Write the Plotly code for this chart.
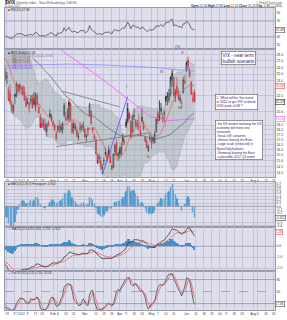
import numpy as np
import pandas as pd
import plotly.graph_objects as go

# ---------------- data (VIX daily, read/estimated from the chart) ----------------
holidays = ['2011-11-24', '2011-12-26', '2012-01-02', '2012-01-16', '2012-02-20',
            '2012-04-06', '2012-05-28', '2012-07-04']

opens = [33.0, 33.9, 32.2, 31.8, 31.3, 29.6, 32.4, 33.8, 31.5, 31.2, 31.9, 31.6, 33.6, 33.9, 34.4, 32.6, 33.2, 34.0, 31.3, 32.3, 28.4,
         28.0, 26.3, 26.5, 28.2, 28.2, 28.0, 29.1, 27.6, 27.8, 28.4, 26.4, 25.3, 24.5, 22.8, 22.3, 21.0, 20.1, 22.2, 22.0, 23.5, 23.0,
         22.9, 23.2, 22.5, 21.6, 21.2, 20.4, 21.3, 21.8, 21.6, 20.6, 22.0, 20.6, 19.5, 18.5, 19.0, 18.6, 17.8, 18.8, 19.8, 19.2,
         18.9, 18.5, 17.6, 18.0, 18.4, 18.0, 18.0, 19.6, 19.4, 19.5, 19.2, 20.9, 18.7, 18.6, 18.2, 18.0, 17.2, 18.2, 18.4, 18.2,
         18.1, 17.4, 18.1, 19.7, 20.1, 18.2, 17.4, 16.9, 15.6, 15.2, 15.0, 14.3, 15.0, 15.8, 15.5, 16.0, 15.4, 14.6, 14.4, 15.8, 16.7, 15.6,
         16.1, 15.6, 17.2, 16.7, 18.4, 18.9, 19.8, 18.9, 17.8, 19.6, 19.0, 18.5, 18.4, 17.9, 19.4, 18.8, 17.2, 16.8, 15.9, 17.1,
         17.0, 17.2, 16.7, 17.8, 19.9, 19.5, 20.4, 19.4, 19.8, 21.3, 21.3, 21.5, 22.2, 24.1, 24.5, 21.8, 23.3, 22.4, 21.4, 21.1, 22.4, 23.7,
         25.6, 27.1, 25.6, 23.8, 21.4, 22.4]
highs = [36.2, 34.4, 34.2, 32.7, 32.4, 30.9, 36.4, 35.0, 31.9, 31.6, 33.2, 33.9, 36.2, 34.6, 35.5, 33.6, 34.1, 35.0, 32.8, 32.9, 28.8,
         28.6, 28.0, 27.9, 28.7, 29.1, 30.9, 29.6, 28.7, 29.5, 29.0, 26.8, 25.9, 25.3, 23.2, 23.5, 21.4, 20.9, 22.3, 23.9, 23.6, 23.7,
         23.4, 23.4, 23.2, 22.0, 21.8, 21.2, 22.1, 22.2, 22.5, 22.4, 22.4, 20.9, 19.8, 19.3, 19.3, 19.2, 18.7, 19.1, 20.3, 19.8,
         19.1, 18.6, 17.9, 18.5, 19.1, 18.7, 18.9, 21.1, 20.0, 20.4, 21.5, 21.2, 19.1, 18.9, 18.8, 18.4, 17.7, 18.8, 18.6, 18.9,
         18.2, 17.6, 18.3, 21.1, 20.2, 18.3, 17.6, 17.2, 15.7, 15.6, 15.4, 14.7, 15.3, 16.2, 15.6, 16.4, 15.9, 14.7, 15.7, 16.6, 17.0, 15.8,
         16.3, 16.7, 17.6, 17.0, 19.2, 21.1, 20.0, 19.0, 19.6, 20.4, 19.2, 19.1, 19.8, 18.5, 20.4, 19.0, 17.4, 17.1, 16.5, 17.6,
         17.4, 17.3, 17.9, 19.4, 20.2, 21.4, 21.1, 19.9, 20.3, 22.0, 22.5, 22.9, 24.7, 25.7, 24.6, 22.9, 24.5, 22.9, 22.2, 21.5, 24.6, 24.9,
         26.9, 27.7, 25.9, 24.0, 22.5, 22.8]
lows = [32.5, 32.2, 30.0, 29.7, 29.6, 28.7, 31.5, 32.3, 29.7, 29.9, 31.0, 31.3, 32.8, 31.7, 32.5, 31.6, 32.3, 33.9, 31.0, 31.4, 27.4,
        27.2, 25.9, 25.8, 27.1, 26.7, 27.9, 26.3, 26.9, 26.9, 27.3, 24.9, 24.0, 23.6, 21.3, 20.9, 19.9, 19.8, 20.9, 21.8, 22.3, 22.5,
        22.1, 22.0, 21.4, 20.6, 20.9, 19.9, 20.9, 20.4, 20.8, 20.1, 20.8, 19.8, 18.2, 18.2, 18.1, 17.9, 17.3, 18.3, 19.4, 18.9,
        18.3, 17.9, 16.9, 17.7, 17.7, 17.7, 17.6, 19.4, 18.9, 19.0, 18.8, 18.9, 17.5, 17.6, 17.9, 17.3, 16.9, 17.7, 17.9, 17.8,
        17.1, 16.8, 17.4, 19.4, 18.5, 17.6, 16.9, 15.6, 14.7, 14.8, 14.2, 13.9, 14.6, 15.4, 14.9, 15.4, 14.8, 14.2, 14.4, 15.4, 15.4, 15.0,
        15.2, 15.4, 16.4, 16.5, 18.2, 18.7, 18.9, 17.1, 17.7, 19.1, 18.3, 18.1, 17.9, 17.3, 18.8, 17.9, 16.7, 16.1, 15.8, 16.8,
        16.1, 16.6, 16.6, 17.7, 18.6, 19.0, 19.6, 18.7, 18.8, 20.8, 20.8, 21.1, 21.9, 23.2, 21.9, 21.2, 22.1, 21.4, 21.1, 20.4, 22.3, 23.6,
        25.3, 25.6, 24.5, 22.1, 21.1, 21.2]
closes = [34.77, 32.74, 30.50, 30.16, 29.85, 29.24, 36.16, 32.81, 30.04, 31.13, 32.00, 33.51, 34.51, 32.00, 32.91, 31.97, 33.98, 34.47, 32.28, 31.97, 27.80,
          27.41, 27.52, 27.84, 27.47, 27.35, 30.59, 26.38, 28.38, 27.99, 27.58, 25.41, 24.29, 24.64, 21.43, 21.16, 20.15, 20.73, 21.91, 23.52, 22.65, 23.40,
          22.97, 22.22, 21.48, 20.63, 21.07, 21.05, 21.59, 20.47, 20.91, 22.20, 20.89, 19.87, 18.28, 18.67, 18.31, 17.91, 18.57, 18.53, 19.44, 19.44,
          18.55, 17.98, 17.10, 18.38, 17.93, 18.36, 18.63, 20.79, 19.04, 19.54, 21.14, 19.07, 17.78, 18.19, 18.19, 17.31, 17.31, 18.19, 18.43, 18.43,
          17.26, 17.29, 18.05, 20.87, 18.70, 17.95, 17.11, 15.64, 14.80, 15.31, 14.47, 14.47, 15.04, 15.58, 15.13, 15.57, 14.82, 14.26, 15.59, 16.41, 15.48, 15.50,
          15.64, 16.28, 16.79, 16.70, 18.81, 20.39, 19.16, 17.20, 19.55, 19.55, 18.46, 18.64, 18.36, 17.44, 18.97, 18.10, 16.82, 16.24, 16.32, 17.15,
          16.60, 16.88, 17.56, 19.16, 18.94, 19.05, 20.08, 19.17, 19.89, 21.87, 21.97, 22.27, 24.49, 25.10, 22.01, 22.48, 22.33, 21.54, 21.76, 21.03, 24.14, 24.06,
          26.66, 26.12, 24.68, 22.16, 21.72, 21.23]

# long moving averages (not enough history to compute)
ma100_dates = ['2012-01-30', '2012-02-09', '2012-02-24', '2012-03-14', '2012-03-28', '2012-04-11',
               '2012-04-30', '2012-05-15', '2012-06-01', '2012-06-08']
ma100_vals = [30.5, 28.6, 26.8, 24.6, 22.9, 21.4, 19.5, 19.0, 19.1, 19.2]
ma200_dates = ['2011-12-15', '2012-01-17', '2012-02-15', '2012-03-15', '2012-04-16', '2012-05-01',
               '2012-05-15', '2012-06-08']
ma200_vals = [26.3, 26.4, 26.5, 26.4, 26.2, 26.0, 25.8, 25.4]

# hand-drawn trendlines (date, value)
trend_blue = [('2012-03-16', 13.8), ('2012-04-10', 21.9)]
trend_gray1 = [('2012-02-09', 22.6), ('2012-04-02', 20.6)]
trend_gray2 = [('2012-02-03', 16.3), ('2012-04-30', 17.7)]

# ---------------- trading-day axis ----------------
days = [d for d in pd.bdate_range('2011-11-01', '2012-08-31') if d.strftime('%Y-%m-%d') not in holidays]
dayidx = {d.strftime('%Y-%m-%d'): i for i, d in enumerate(days)}
n = len(closes)
xi = np.arange(n)
o = np.array(opens); h = np.array(highs); l = np.array(lows); c = np.array(closes)
cs = pd.Series(c); hs = pd.Series(h); ls = pd.Series(l)

ma10 = cs.rolling(10).mean()
ma50 = cs.rolling(50).mean()
bbm = cs.rolling(20).mean(); bbs = cs.rolling(20).std(ddof=0)
bbu = bbm + 2 * bbs; bbl = bbm - 2 * bbs
d = cs.diff()
ag = d.clip(lower=0).ewm(alpha=1 / 14, adjust=False).mean()
al = (-d.clip(upper=0)).ewm(alpha=1 / 14, adjust=False).mean()
rsi = 100 - 100 / (1 + ag / al)
ema12 = cs.ewm(span=12, adjust=False).mean(); ema26 = cs.ewm(span=26, adjust=False).mean()
macd = ema12 - ema26; sig = macd.ewm(span=9, adjust=False).mean(); hist = macd - sig
fk = 100 * (cs - ls.rolling(14).min()) / (hs.rolling(14).max() - ls.rolling(14).min())
sk = fk.rolling(3).mean(); sd = sk.rolling(3).mean()

# tick labels: first trading day of each week, month names at month start
labels = {}
for i, dd in enumerate(days):
    if i == 0 or dd.month != days[i - 1].month:
        labels[i] = '2012' if dd.month == 1 else dd.strftime('%b')
month_idx = sorted(labels)
for i, dd in enumerate(days):
    if i == 0 or dd.weekday() <= days[i - 1].weekday() or (dd - days[i - 1]).days >= 7:
        wk_start = dd - pd.Timedelta(days=dd.weekday())
        wk_end = wk_start + pd.Timedelta(days=6)
        has_m = any(wk_start <= days[m] <= wk_end for m in month_idx)
        near = any(0 < i - m < 3 for m in month_idx)
        if not has_m and not near:
            labels[i] = str(dd.day)
XR = [31.75, 201.75]
tv = [i for i in sorted(labels) if XR[0] <= i <= XR[1]]
tt = [labels[i] for i in tv]

# ---------------- figure ----------------
W, H = 287, 320
ML, MR, MT, MB = 4, 11, 8, 9
def px(xp): return (xp - ML) / (W - ML - MR)
def py(yp): return (H - MB - yp) / (H - MT - MB)

BG = '#dedeec'
GRID = '#c4c4d6'
vis = xi >= 32
last = n - 1
fig = go.Figure()

# RSI panel
fig.add_trace(go.Scatter(x=xi[14:], y=rsi[14:], mode='lines', line=dict(color='#3a3a3a', width=0.7),
                         xaxis='x', yaxis='y', hoverinfo='skip', showlegend=False))

# main panel: bollinger band fill
v = slice(19, n)
fig.add_trace(go.Scatter(x=xi[v], y=bbl[v], mode='lines', line=dict(color='#9aa3a3', width=0.5),
                         xaxis='x2', yaxis='y2', hoverinfo='skip', showlegend=False))
fig.add_trace(go.Scatter(x=xi[v], y=bbu[v], mode='lines', line=dict(color='#9aa3a3', width=0.5),
                         fill='tonexty', fillcolor='rgba(150,165,160,0.38)',
                         xaxis='x2', yaxis='y2', hoverinfo='skip', showlegend=False))
fig.add_trace(go.Scatter(x=[dayidx[s] for s in ma200_dates], y=ma200_vals, mode='lines',
                         line=dict(color='#8c8cff', width=0.8), xaxis='x2', yaxis='y2', hoverinfo='skip', showlegend=False))
fig.add_trace(go.Scatter(x=[dayidx[s] for s in ma100_dates], y=ma100_vals, mode='lines',
                         line=dict(color='#ff50ff', width=0.8), xaxis='x2', yaxis='y2', hoverinfo='skip', showlegend=False))
fig.add_trace(go.Scatter(x=xi[49:], y=ma50[49:], mode='lines', line=dict(color='#606060', width=0.7),
                         xaxis='x2', yaxis='y2', hoverinfo='skip', showlegend=False))
for tl, col in [(trend_gray1, '#6a6a6a'), (trend_gray2, '#6a6a6a'), (trend_blue, '#3d3dff')]:
    fig.add_trace(go.Scatter(x=[dayidx[a] for a, b in tl], y=[b for a, b in tl], mode='lines',
                             line=dict(color=col, width=0.7), xaxis='x2', yaxis='y2', hoverinfo='skip', showlegend=False))
fig.add_trace(go.Scatter(x=xi[9:], y=ma10[9:], mode='lines', line=dict(color='#f05a5a', width=0.7),
                         xaxis='x2', yaxis='y2', hoverinfo='skip', showlegend=False))

prev = np.concatenate([[c[0]], c[:-1]])
up = c >= prev
for mask, col in [(up, '#000000'), (~up, '#e0001b')]:
    fig.add_trace(go.Candlestick(x=xi[mask], open=o[mask], high=h[mask], low=l[mask], close=c[mask],
                                 increasing=dict(line=dict(color=col, width=0.7), fillcolor='rgba(0,0,0,0)'),
                                 decreasing=dict(line=dict(color=col, width=0.7), fillcolor=col),
                                 whiskerwidth=0, xaxis='x2', yaxis='y2', hoverinfo='skip', showlegend=False))

# MACD histogram panel
fig.add_trace(go.Bar(x=xi, y=hist, marker=dict(color='#3f92c8', line=dict(width=0.3, color='#8fc0e2')),
                     width=0.8, xaxis='x3', yaxis='y3', hoverinfo='skip', showlegend=False))
# MACD panel
fig.add_trace(go.Bar(x=xi, y=hist, marker=dict(color='#3f92c8', line=dict(width=0)),
                     width=0.8, xaxis='x4', yaxis='y4', hoverinfo='skip', showlegend=False))
fig.add_trace(go.Scatter(x=xi, y=sig, mode='lines', line=dict(color='#f05a5a', width=0.7),
                         xaxis='x4', yaxis='y4', hoverinfo='skip', showlegend=False))
fig.add_trace(go.Scatter(x=xi, y=macd, mode='lines', line=dict(color='#222222', width=0.7),
                         xaxis='x4', yaxis='y4', hoverinfo='skip', showlegend=False))
# Stochastics panel
fig.add_trace(go.Scatter(x=xi, y=sd, mode='lines', line=dict(color='#f05a5a', width=0.7),
                         xaxis='x5', yaxis='y5', hoverinfo='skip', showlegend=False))
fig.add_trace(go.Scatter(x=xi, y=sk, mode='lines', line=dict(color='#333333', width=0.7),
                         xaxis='x5', yaxis='y5', hoverinfo='skip', showlegend=False))

# panel ranges (zero lines placed as in the reference)
hmax = float(np.nanmax(hist[vis]))
h_top = hmax * 24 / 22
h_bot = -h_top * 21 / 24
mmax = float(np.nanmax(macd[vis]))
m_top = mmax * 1.03
m_bot = -m_top * 25 / 19

def keep(ticks, avoid, tol):
    return [t for t in ticks if all(abs(t - a) > tol for a in avoid)]

tickfont = dict(family='Liberation Sans, Arial', size=3.4, color='#333')
xtickfont = dict(family='Liberation Sans, Arial', size=3.1, color='#333')
def xax(show, anchor):
    return dict(range=XR, tickvals=tv, ticktext=tt, showticklabels=show, tickfont=xtickfont, tickangle=0,
                showgrid=True, gridcolor=GRID, gridwidth=0.5, zeroline=False, ticks='', ticklen=0,
                showline=True, linecolor='#9a9aae', linewidth=0.6, mirror=True, anchor=anchor,
                fixedrange=True, rangeslider=dict(visible=False))
def yax(dom, **kw):
    base = dict(domain=dom, side='right', tickfont=tickfont, showgrid=True, gridcolor=GRID, gridwidth=0.5,
                zeroline=False, ticks='', showline=True, linecolor='#9a9aae', linewidth=0.6, mirror=True,
                fixedrange=True)
    base.update(kw)
    return base

main_ticks = [14 + 0.5 * k for k in range(13)] + [21, 22, 23, 24, 25, 26, 27, 28]
tags_main = [c[last], ma10[last], ma100_vals[-1]]
mt_keep = [t for t in main_ticks if all(abs(np.log10(t) - np.log10(a)) * 392 > 3.5 for a in tags_main)]
rsi_ticks = keep([10, 30, 70, 90], [rsi[last]], 8)
hstep = 0.1 if h_top < 0.8 else 0.4
h_ticks = keep(list(np.round(np.arange(-3, 3.01, hstep), 2)), [hist[last]], hstep * 0.6)
m_ticks = keep(list(np.arange(-4, 4.1, 1.0)), [sig[last]], 0.6)
s_ticks = keep([20, 50, 80], [sk[last]], 9)

fig.update_layout(
    width=W, height=H, margin=dict(l=ML, r=MR, t=MT, b=MB),
    paper_bgcolor='white', plot_bgcolor=BG, showlegend=False, bargap=0,
    xaxis=xax(False, 'y'), xaxis2=xax(True, 'y2'), xaxis3=xax(False, 'y3'),
    xaxis4=xax(False, 'y4'), xaxis5=xax(True, 'y5'),
    yaxis=yax([py(49), 1.0], range=[0, 102.5], tickvals=rsi_ticks, ticktext=[str(t) for t in rsi_ticks], showgrid=False),
    yaxis2=yax([py(178), py(49)], type='log', range=[np.log10(13.6), np.log10(29.0)],
               tickvals=mt_keep, ticktext=['%.1f' % t for t in mt_keep]),
    yaxis3=yax([py(228), py(183)], range=[h_bot, h_top], tickvals=h_ticks, ticktext=['%.1f' % t for t in h_ticks]),
    yaxis4=yax([py(272), py(228)], range=[m_bot, m_top], tickvals=m_ticks, ticktext=['%.1f' % t for t in m_ticks]),
    yaxis5=yax([0, py(272)], range=[4, 101], tickvals=s_ticks, ticktext=[str(t) for t in s_ticks], showgrid=False),
)
for i in [2, 3, 4, 5]:
    fig.layout['xaxis%d' % i]['matches'] = 'x'

# reference lines
for yy in [70, 30]:
    fig.add_shape(type='line', xref='x domain', yref='y', x0=0, x1=1, y0=yy, y1=yy, line=dict(color='#8a8a9a', width=0.7))
for yy, dash in [(80, 'solid'), (50, 'dash'), (20, 'solid')]:
    fig.add_shape(type='line', xref='x5 domain', yref='y5', x0=0, x1=1, y0=yy, y1=yy,
                  line=dict(color='#8a8a9a', width=0.7, dash=dash))
fig.add_shape(type='line', xref='x3 domain', yref='y3', x0=0, x1=1, y0=0, y1=0, line=dict(color='#8a8a9a', width=0.5))
fig.add_shape(type='line', xref='x4 domain', yref='y4', x0=0, x1=1, y0=0, y1=0, line=dict(color='#8a8a9a', width=0.5))

F = 'Liberation Sans, Arial'
def txt(xp, yp, s, size=3.4, color='#333', anchor='left', bold=False):
    fig.add_annotation(x=px(xp), y=py(yp), xref='paper', yref='paper', text=('<b>%s</b>' % s) if bold else s,
                       showarrow=False, xanchor=anchor, yanchor='middle', font=dict(family=F, size=size, color=color))

chg = c[last] - c[last - 1]
txt(2, 2.8, '$VIX', size=4.6, color='#000', bold=True)
txt(13, 2.8, 'Volatility Index - New Methodology (CBOE)', size=3.2, color='#555')
txt(2, 6.0, days[last].strftime('%-d-%b-%Y'), size=3.0, color='#555')
txt(285, 2.6, '© StockCharts.com', size=3.0, color='#555', anchor='right')
txt(285, 5.8, '<b>Open</b> %.2f <b>High</b> %.2f <b>Low</b> %.2f <b>Close</b> %.2f <b>Chg</b> %.2f (%.2f%%)' %
    (o[last], h[last], l[last], c[last], chg, 100 * chg / c[last - 1]), size=3.0, color='#222', anchor='right')

txt(5, 10.3, '■ RSI(14) %.2f' % rsi[last], size=3.0, color='#333')
txt(5, 52.7, '■ $VIX (Daily) %.2f' % c[last], size=3.0, color='#111')
txt(5, 55.8, '— BB(20,2.0) %.2f, %.2f, %.2f' % (bbm[last], bbu[last], bbl[last]), size=3.0, color='#777')
txt(5, 58.9, '— MA(10) %.2f' % ma10[last], size=3.0, color='#e03030')
txt(5, 62.0, '— MA(50) %.2f' % ma50[last], size=3.0, color='#555')
txt(5, 65.1, '— MA(100) %.2f' % ma100_vals[-1], size=3.0, color='#e040e0')
txt(5, 68.2, '— MA(200) %.2f' % ma200_vals[-1], size=3.0, color='#6060ff')
txt(5, 185.0, '■ MACD(12,26,9) Histogram %.3f' % hist[last], size=3.0, color='#333')
txt(5, 230.0, '— MACD(12,26,9) %.3f, %.3f, %.3f' % (macd[last], sig[last], hist[last]), size=3.0, color='#333')
txt(5, 274.2, '— Full STO(14,3,3) %.2f, %.2f' % (sk[last], sd[last]), size=3.0, color='#333')

# wave labels
txt(178, 46.5, '(5)', size=4.2, color='#3a3aff', anchor='center')
txt(183, 52.5, 'V', size=4.2, color='#444', anchor='center')
txt(162, 72, 'III', size=4.0, color='#444', anchor='center')
txt(180, 108, 'IV', size=4.0, color='#444', anchor='center')
txt(126, 87, 'I', size=4.0, color='#444', anchor='center')
txt(148, 157, 'II', size=4.0, color='#444', anchor='center')

# commentary boxes
TC = '#2b2266'
fig.add_annotation(x=px(222), y=py(51.5), xref='paper', yref='paper', xanchor='left', yanchor='top', showarrow=False,
                   text='VIX - near term<br>bullish scenario', align='left', bgcolor='white', bordercolor='#555',
                   borderwidth=0.6, borderpad=1, font=dict(family=F, size=4.6, color=TC))
fig.add_annotation(x=px(216), y=py(94.5), xref='paper', yref='paper', xanchor='left', yanchor='top', showarrow=False,
                   text="1. What will be 'the event'<br>in 2012 to get VIX to break<br>2011 peak of 48 ?", align='left',
                   bgcolor='white', bordercolor='#555', borderwidth=0.6, borderpad=1, font=dict(family=F, size=3.3, color=TC))
fig.add_annotation(x=px(216), y=py(120), xref='paper', yref='paper', xanchor='left', yanchor='top', showarrow=False,
                   text="-the US market realising the US<br>economy will move into<br>recession<br>-'fiscal cliff' concerns<br>"
                        "-Greece leaving the Euro<br>-Large scale (enforced) in<br>Spain/Italy bailouts<br>"
                        "-Germany leaving the Euro<br>-a plausible 2012 Q3 event",
                   align='left', bgcolor='white', bordercolor='#555', borderwidth=0.6, borderpad=1,
                   font=dict(family=F, size=3.2, color=TC))

# current value tags on the right axis
def tag(yref, yval, s, col):
    fig.add_annotation(x=1.0, y=yval, xref='paper', yref=yref, xanchor='left', yanchor='middle', showarrow=False,
                       text=s, bgcolor='white', bordercolor=col, borderwidth=0.5, borderpad=0.3,
                       font=dict(family=F, size=3.2, color=col))
tag('y2', np.log10(c[last]), '%.2f' % c[last], '#000')
tag('y2', np.log10(ma10[last]), '%.2f' % ma10[last], '#e03030')
tag('y2', np.log10(ma100_vals[-1]), '%.2f' % ma100_vals[-1], '#e040e0')
tag('y', rsi[last], '%.2f' % rsi[last], '#333')
tag('y3', hist[last], '%.3f' % hist[last], '#333')
tag('y4', sig[last], '%.2f' % sig[last], '#e03030')
tag('y5', sk[last], '%.2f' % sk[last], '#333')

fig.write_html('out.html', config={'displayModeBar': False})
